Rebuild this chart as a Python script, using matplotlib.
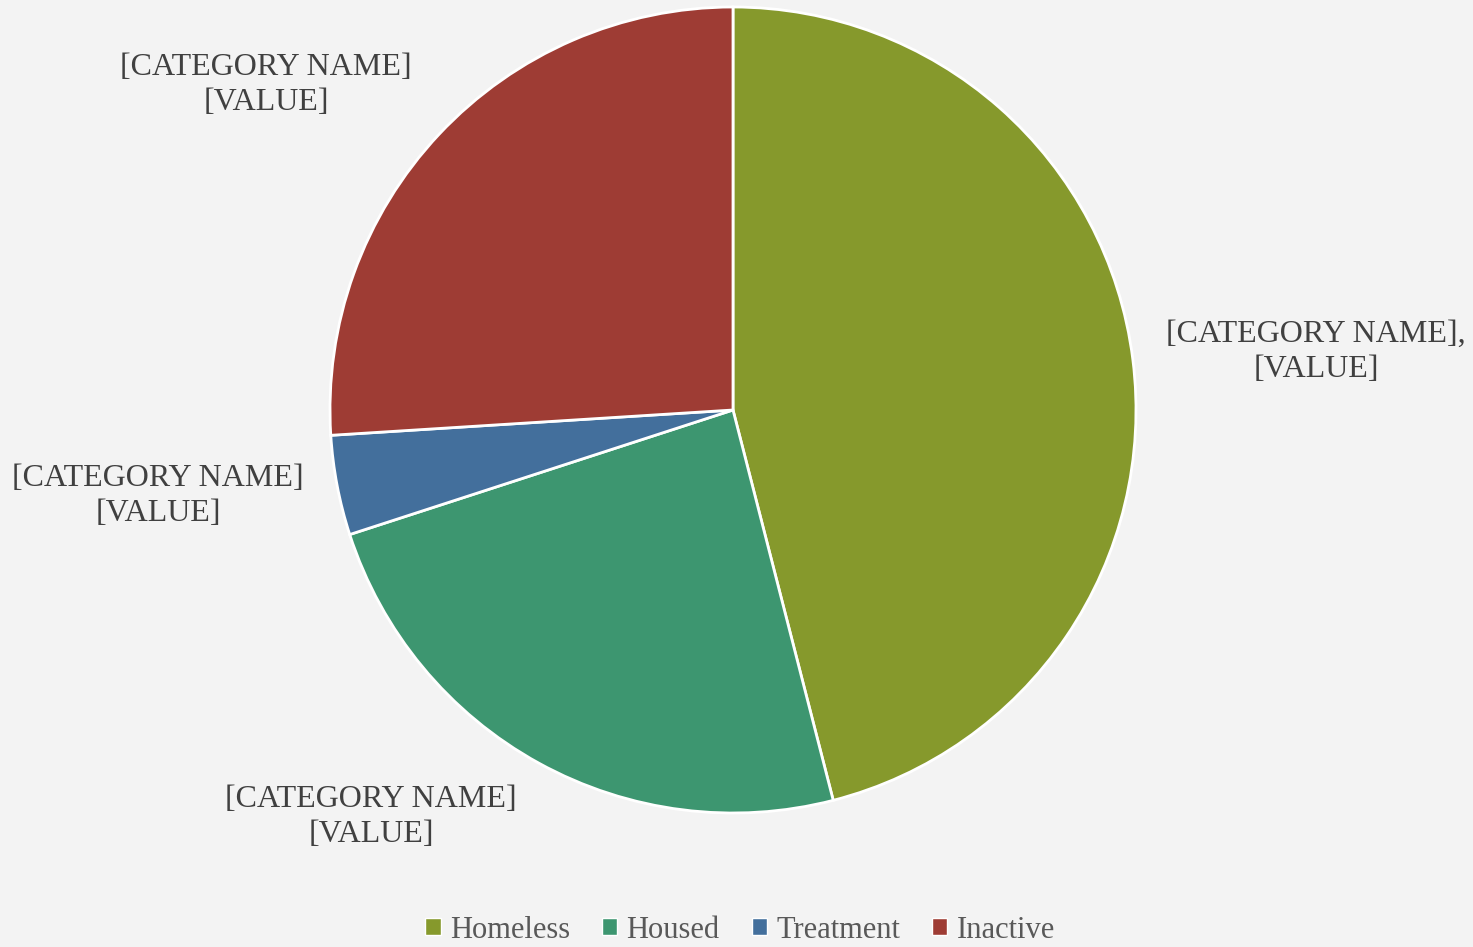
import matplotlib
matplotlib.use("Agg")
import matplotlib.pyplot as plt
from matplotlib.patches import Patch

categories = ["Homeless", "Housed", "Treatment", "Inactive"]
values = [46, 24, 4, 26]
colors = ["#86992c", "#3d9670", "#436f9c", "#9e3c34"]
label_texts = ["[CATEGORY NAME],\n[VALUE]", "[CATEGORY NAME]\n[VALUE]",
               "[CATEGORY NAME]\n[VALUE]", "[CATEGORY NAME]\n[VALUE]"]

W, H = 1473, 947
fig = plt.figure(figsize=(W / 100, H / 100), dpi=100)
fig.patch.set_facecolor("#f3f3f3")
plt.rcParams["font.family"] = ["Liberation Serif", "DejaVu Serif"]

cx, cy, r = 733, 410, 403
ax = fig.add_axes([(cx - r) / W, (H - cy - r) / H, 2 * r / W, 2 * r / H])
ax.set_facecolor("none")
wedges, _ = ax.pie(values, colors=colors, startangle=90, counterclock=False,
                   radius=1, wedgeprops=dict(edgecolor="white", linewidth=2))
ax.set_xlim(-1, 1)
ax.set_ylim(-1, 1)
ax.set_aspect("equal")
ax.axis("off")

# label positions in pixel coords (center of text block)
label_pos = [(1316, 352), (371, 817), (158, 496), (266, 85)]
for txt, (px, py) in zip(label_texts, label_pos):
    fig.text(px / W, 1 - py / H, txt, ha="center", va="center",
             fontsize=23, color="#404040", linespacing=1.25)

handles = [Patch(facecolor=c, edgecolor="white", linewidth=1) for c in colors]
leg = fig.legend(handles, categories, loc="center", bbox_to_anchor=(740 / W, 1 - 930 / H),
                 ncol=4, frameon=False, fontsize=22, handlelength=0.5, handleheight=0.5,
                 handletextpad=0.3, columnspacing=1.05, labelcolor="#595959")

fig.savefig("out.png", dpi=100, facecolor=fig.get_facecolor())
